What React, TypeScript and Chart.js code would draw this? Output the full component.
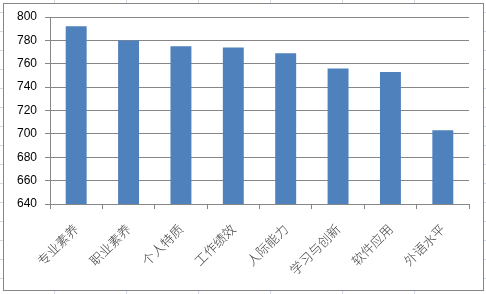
import React, { useEffect, useRef } from "react";
import { Chart, registerables } from "chart.js";

Chart.register(...registerables);

// Category names and scores
const categories = ["专业素养", "职业素养", "个人特质", "工作绩效", "人际能力", "学习与创新", "软件应用", "外语水平"];
const scores = [792, 780, 775, 774, 769, 756, 753, 703];
const yMin = 640;
const yMax = 800;
const yStep = 20;

const W = 486;
const H = 294;

export default function App() {
  const canvasRef = useRef<HTMLCanvasElement | null>(null);

  useEffect(() => {
    const canvas = canvasRef.current;
    if (!canvas) return;
    const chart = new Chart(canvas, {
      type: "bar",
      data: {
        labels: categories,
        datasets: [
          {
            data: scores,
            backgroundColor: "#4f81bd",
            borderWidth: 0,
            barPercentage: 0.4,
            categoryPercentage: 1,
          },
        ],
      },
      options: {
        responsive: false,
        animation: false,
        layout: { padding: { top: 17, right: 17, left: 0, bottom: 0 } },
        plugins: {
          legend: { display: false },
          tooltip: { enabled: false },
        },
        scales: {
          x: {
            grid: {
              drawOnChartArea: false,
              drawTicks: true,
              tickLength: 5,
              color: "#868686",
            },
            border: { display: true, color: "#868686", width: 1 },
            ticks: {
              minRotation: 45,
              maxRotation: 45,
              autoSkip: false,
              padding: 12,
              color: "#404040",
              font: { family: "'Noto Sans CJK SC', sans-serif", size: 13, weight: "300" },
            },
            afterFit: (s: any) => {
              s.height = 90;
            },
          },
          y: {
            min: yMin,
            max: yMax,
            ticks: {
              stepSize: yStep,
              padding: 8,
              color: "#000000",
              font: { family: "'Liberation Sans', Arial, sans-serif", size: 12 },
            },
            grid: {
              color: "#868686",
              lineWidth: 1,
              drawTicks: true,
              tickLength: 5,
            },
            border: { display: true, color: "#868686", width: 1 },
            afterFit: (s: any) => {
              s.width = 50;
            },
          },
        },
      },
    });
    return () => chart.destroy();
  }, []);

  // Faint worksheet cell lines around the chart frame
  const cellLines =
    "repeating-linear-gradient(to right, transparent 0px, transparent 54px, #d0d7e5 54px, #d0d7e5 55px, transparent 55px, transparent 72px)," +
    "repeating-linear-gradient(to bottom, transparent 0px, transparent 12px, #d0d7e5 12px, #d0d7e5 13px, transparent 13px, transparent 19px)";

  return (
    <div
      style={{
        position: "fixed",
        left: 0,
        top: 0,
        width: W,
        height: H,
        background: "#ffffff",
        overflow: "hidden",
      }}
    >
      <div
        style={{
          position: "absolute",
          left: 0,
          top: 0,
          width: W,
          height: H,
          backgroundImage: cellLines,
        }}
      />
      <div
        style={{
          position: "absolute",
          left: 3,
          top: 3,
          width: 481,
          height: 288,
          boxSizing: "border-box",
          border: "1px solid #868686",
          background: "#ffffff",
        }}
      />
      <canvas
        ref={canvasRef}
        width={W}
        height={H}
        style={{ position: "absolute", left: 0, top: 0, width: W, height: H }}
      />
    </div>
  );
}
